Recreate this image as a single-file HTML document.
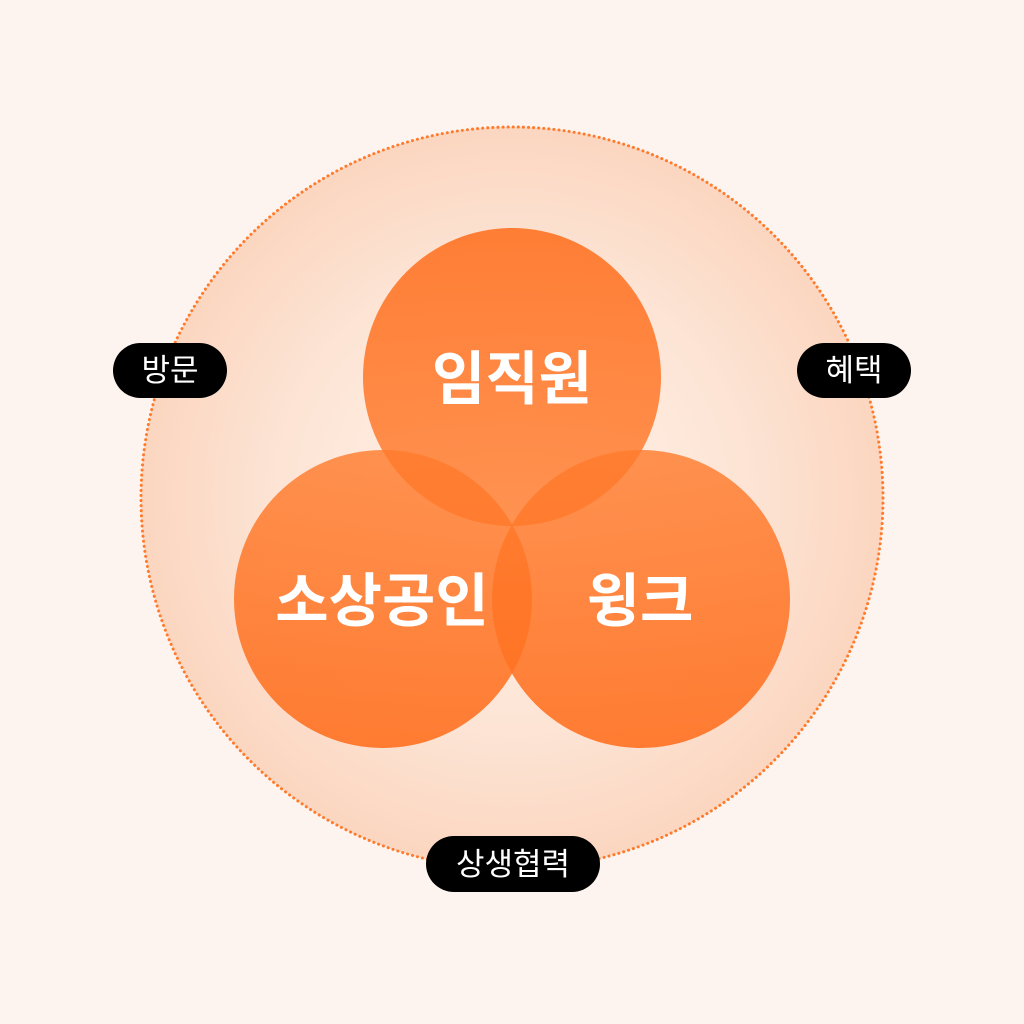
<!DOCTYPE html>
<html><head><meta charset="utf-8"><style>
html,body{margin:0;padding:0;width:1024px;height:1024px;background:#fdf4ef;overflow:hidden}
svg{display:block}
</style></head><body>
<svg width="1024" height="1024" viewBox="0 0 1024 1024" xmlns="http://www.w3.org/2000/svg">
<defs>
<radialGradient id="bg" cx="512" cy="498" r="372" gradientUnits="userSpaceOnUse">
<stop offset="0" stop-color="#fff3ea"/>
<stop offset="0.6" stop-color="#fde5d6"/>
<stop offset="1" stop-color="#fbd6c0"/>
</radialGradient>
<linearGradient id="c1" x1="0" y1="0" x2="0" y2="1">
<stop offset="0" stop-color="#ff7020" stop-opacity="0.88"/>
<stop offset="1" stop-color="#ff7a2b" stop-opacity="0.8"/>
</linearGradient>
<linearGradient id="c2" x1="0" y1="0" x2="0" y2="1">
<stop offset="0" stop-color="#ff7a2b" stop-opacity="0.8"/>
<stop offset="1" stop-color="#ff7020" stop-opacity="0.9"/>
</linearGradient>
</defs>
<rect width="1024" height="1024" fill="#fdf4ef"/>
<circle cx="512" cy="498" r="371" fill="url(#bg)" stroke="#ff7a2b" stroke-width="3" stroke-dasharray="0.1 5" stroke-linecap="round"/>
<circle cx="512" cy="377" r="149" fill="url(#c1)"/>
<circle cx="383" cy="599" r="149" fill="url(#c2)"/>
<circle cx="641" cy="599" r="149" fill="url(#c2)"/>
<g font-family="Liberation Sans, Noto Sans CJK KR, sans-serif" font-weight="700" fill="#fff" text-anchor="middle">
<text x="512" y="399" font-size="58">임직원</text>
<text x="382" y="621" font-size="58">소상공인</text>
<text x="640" y="621" font-size="58">윙크</text>
</g>
<g font-family="Liberation Sans, Noto Sans CJK KR, sans-serif" font-weight="400" fill="#fff" text-anchor="middle" font-size="31">
<rect x="113" y="343" width="114" height="55" rx="27.5" fill="#000"/>
<text x="170" y="381">방문</text>
<rect x="797" y="343" width="114" height="55" rx="27.5" fill="#000"/>
<text x="854" y="381">혜택</text>
<rect x="426" y="836" width="174" height="56" rx="28" fill="#000"/>
<text x="513" y="875">상생협력</text>
</g>
</svg>
</body></html>
